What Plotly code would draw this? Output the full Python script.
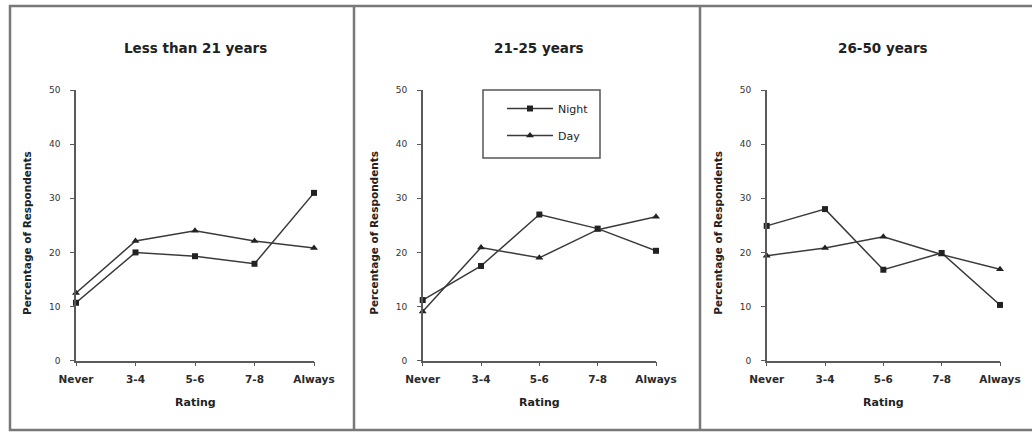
import plotly.graph_objects as go

categories = ["Never", "3-4", "5-6", "7-8", "Always"]
panel_titles = ["Less than 21 years", "21-25 years", "26-50 years"]

night_lt21 = [10.7, 20.0, 19.3, 17.9, 31.0]
day_lt21 = [12.5, 22.1, 24.0, 22.1, 20.8]

night_21_25 = [11.2, 17.5, 27.0, 24.4, 20.3]
day_21_25 = [9.1, 20.9, 19.0, 24.2, 26.6]

night_26_50 = [24.9, 28.0, 16.8, 19.9, 10.3]
day_26_50 = [19.4, 20.8, 22.9, 19.6, 16.9]

y_ticks = [0, 10, 20, 30, 40, 50]

W, H = 1032, 434
series = [(night_lt21, day_lt21), (night_21_25, day_21_25), (night_26_50, day_26_50)]
x_px = [(76, 314), (422.7, 656), (766.7, 1000)]
y0_px, y50_px = 360.7, 90

AX = "#5a5a5a"
LINE = "#3a3a3a"
FONT = "DejaVu Sans"

fig = go.Figure()
layout = dict(
    width=W, height=H, margin=dict(l=0, r=0, t=0, b=0, pad=0, autoexpand=False),
    paper_bgcolor="white", plot_bgcolor="white",
    font=dict(family=FONT, color="#2a2a2a"),
    showlegend=True,
)

annotations = []
for i, ((night, day), (xa, xb)) in enumerate(zip(series, x_px)):
    n = "" if i == 0 else str(i + 1)
    xd = [xa / W, xb / W]
    yd = [(H - y0_px) / H, (H - y50_px) / H]
    layout["xaxis" + n] = dict(
        domain=xd, anchor="y" + n, type="category", categoryorder="array",
        categoryarray=categories, range=[0, 4], showgrid=False, zeroline=False,
        showline=True, linecolor=AX, linewidth=1.5, ticks="outside", ticklen=4,
        tickcolor=AX, tickwidth=1.2, ticklabelstandoff=4,
        tickfont=dict(size=10.5, family=FONT, color="#2a2a2a", weight="bold"),
        fixedrange=True, automargin=False,
    )
    layout["yaxis" + n] = dict(
        domain=yd, anchor="x" + n, range=[0, 50], tickvals=y_ticks, showgrid=False,
        zeroline=False, showline=True, linecolor=AX, linewidth=1.5, ticks="outside",
        ticklen=4, tickcolor=AX, tickwidth=1.2, ticklabelstandoff=8,
        tickfont=dict(size=9, family=FONT, color="#333"),
        fixedrange=True, automargin=False,
    )
    show = (i == 1)
    fig.add_trace(go.Scatter(
        x=categories, y=night, name="Night", mode="lines+markers",
        xaxis="x" + n, yaxis="y" + n, cliponaxis=False, showlegend=show,
        legendgroup="night",
        line=dict(color=LINE, width=1.5),
        marker=dict(symbol="square", size=6, color="#222"),
    ))
    fig.add_trace(go.Scatter(
        x=categories, y=day, name="Day", mode="lines+markers",
        xaxis="x" + n, yaxis="y" + n, cliponaxis=False, showlegend=show,
        legendgroup="day",
        line=dict(color=LINE, width=1.5),
        marker=dict(symbol="triangle-up", size=7, color="#222"),
    ))
    cx = (xa + xb) / 2 / W
    annotations.append(dict(
        text="<b>%s</b>" % panel_titles[i], x=cx, y=(H - 48) / H, xref="paper", yref="paper",
        xanchor="center", yanchor="middle",
        showarrow=False, font=dict(size=13.5, family=FONT, color="#222"),
    ))
    annotations.append(dict(
        text="<b>Rating</b>", x=cx, y=(H - 402) / H, xref="paper", yref="paper",
        xanchor="center", yanchor="middle",
        showarrow=False, font=dict(size=11, family=FONT, color="#222"),
    ))
    annotations.append(dict(
        text="<b>Percentage of Respondents</b>", x=(xa - 49) / W, y=(H - 233) / H,
        xref="paper", yref="paper", xanchor="center", yanchor="middle",
        showarrow=False, textangle=-90,
        font=dict(size=10.5, family=FONT, color="#222"),
    ))

layout["annotations"] = annotations
layout["legend"] = dict(
    x=502 / W, y=(H - 94) / H, xanchor="left", yanchor="top",
    bgcolor="rgba(0,0,0,0)", borderwidth=0, traceorder="grouped",
    tracegroupgap=8, font=dict(size=11, family=FONT, color="#222"),
    itemwidth=46,
)

BORDER = "#787878"
layout["shapes"] = [
    dict(type="rect", xref="paper", yref="paper", x0=10 / W, x1=1.02, y0=(H - 430) / H, y1=(H - 6) / H,
         line=dict(color=BORDER, width=2.5)),
    dict(type="line", xref="paper", yref="paper", x0=354 / W, x1=354 / W, y0=(H - 430) / H, y1=(H - 6) / H,
         line=dict(color=BORDER, width=2.5)),
    dict(type="line", xref="paper", yref="paper", x0=700 / W, x1=700 / W, y0=(H - 430) / H, y1=(H - 6) / H,
         line=dict(color=BORDER, width=2.5)),
    dict(type="rect", xref="paper", yref="paper", x0=483 / W, x1=600 / W, y0=(H - 158) / H, y1=(H - 90) / H,
         line=dict(color="#555", width=1.5)),
]

fig.update_layout(**layout)
fig.write_html("out.html", config={"displayModeBar": False},
               post_script="document.body.style.margin='0';")
